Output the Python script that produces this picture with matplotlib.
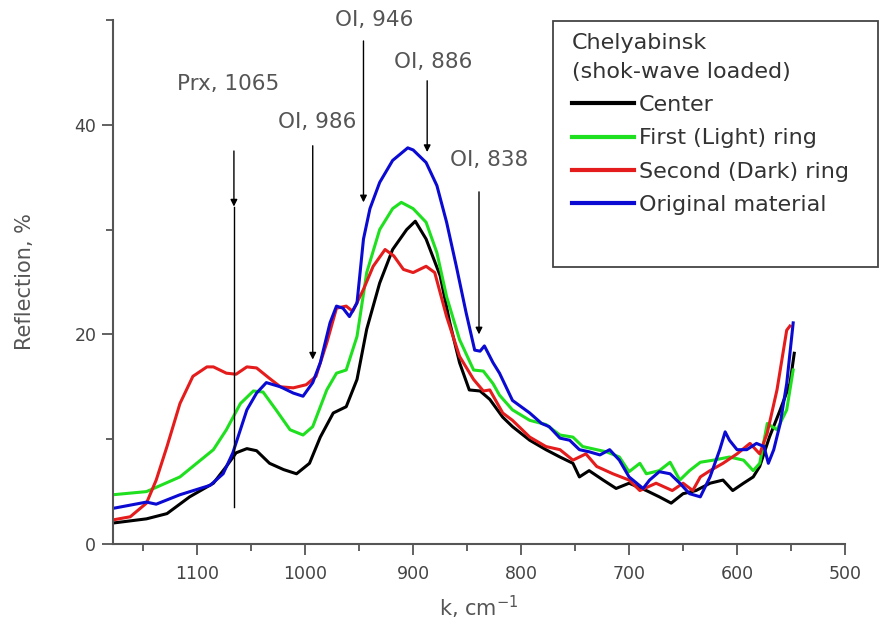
import matplotlib
matplotlib.use('Agg')
import matplotlib.pyplot as plt
from matplotlib.patches import Rectangle
from matplotlib.ticker import MultipleLocator

# Data (wavenumber, cm^-1  ->  reflection, %)
k_center = [1178, 1147, 1128, 1107, 1085, 1073, 1064, 1054, 1045, 1033, 1020, 1008, 996, 986, 974,
            962, 952, 943, 931, 919, 906, 898, 888, 875, 866, 857, 848, 838, 829, 817, 808, 792,
            777, 764, 752, 746, 737, 724, 712, 700, 684, 672, 661, 650, 638, 625, 613, 604, 594,
            585, 579, 570, 560, 551, 547]
r_center = [2.0, 2.4, 2.9, 4.5, 5.8, 7.4, 8.7, 9.1, 8.9, 7.7, 7.1, 6.7, 7.7, 10.2, 12.5,
            13.1, 15.7, 20.5, 24.9, 28.1, 30.0, 30.8, 29.1, 25.6, 21.1, 17.3, 14.7, 14.6, 13.8, 12.1, 11.2, 9.9,
            9.0, 8.3, 7.7, 6.4, 7.0, 6.1, 5.3, 5.8, 5.1, 4.5, 3.9, 4.8, 5.1, 5.8, 6.1, 5.1, 5.8,
            6.4, 7.4, 10.2, 12.8, 15.3, 18.2]

k_light = [1178, 1147, 1116, 1085, 1073, 1060, 1048, 1039, 1027, 1014, 1002, 993, 980, 971, 962,
           952, 943, 931, 919, 911, 900, 888, 878, 869, 857, 844, 835, 826, 820, 808, 792, 777,
           764, 752, 743, 730, 721, 709, 700, 690, 684, 672, 662, 653, 644, 634, 622, 607, 594,
           585, 579, 572, 563, 554, 548]
r_light = [4.7, 5.0, 6.4, 9.0, 10.9, 13.4, 14.6, 14.5, 12.8, 10.9, 10.4, 11.2, 14.7, 16.3, 16.6,
           19.8, 25.9, 30.0, 32.0, 32.6, 32.0, 30.7, 27.8, 23.6, 19.5, 16.6, 16.5, 15.3, 14.2, 12.8, 11.8, 11.4,
           10.4, 10.2, 9.3, 9.0, 8.8, 8.3, 6.9, 7.7, 6.7, 7.0, 7.8, 6.1, 7.0, 7.8, 8.0, 8.3, 8.0,
           7.0, 7.7, 11.5, 10.9, 12.8, 16.6]

k_dark = [1178, 1162, 1147, 1138, 1128, 1116, 1104, 1091, 1085, 1073, 1064, 1054, 1045, 1033, 1023,
          1011, 999, 990, 980, 971, 962, 956, 946, 937, 926, 918, 909, 900, 888, 880, 869, 857,
          844, 835, 829, 817, 808, 792, 777, 764, 752, 740, 730, 715, 700, 690, 675, 660, 650,
          641, 634, 625, 613, 600, 588, 579, 572, 563, 554, 551]
r_dark = [2.3, 2.6, 3.9, 6.1, 9.3, 13.4, 16.0, 16.9, 16.9, 16.3, 16.2, 16.9, 16.8, 15.8, 15.0,
          14.9, 15.2, 16.0, 19.2, 22.5, 22.7, 22.2, 24.3, 26.5, 28.1, 27.5, 26.2, 25.9, 26.5, 25.9, 21.7, 17.9,
          15.7, 14.6, 14.7, 12.5, 11.8, 10.2, 9.3, 9.0, 8.0, 8.6, 7.4, 6.7, 6.1, 5.1, 5.8, 5.1, 5.8,
          5.1, 6.4, 7.0, 7.7, 8.6, 9.6, 8.6, 10.6, 14.7, 20.4, 20.8]

k_orig = [1178, 1147, 1138, 1116, 1088, 1076, 1067, 1054, 1045, 1036, 1023, 1011, 1002, 993, 986,
          977, 971, 965, 959, 952, 946, 940, 931, 919, 905, 900, 888, 878, 869, 860, 851, 843,
          838, 834, 826, 820, 808, 792, 781, 774, 764, 755, 746, 737, 727, 718, 709, 700, 687,
          681, 672, 662, 653, 644, 634, 625, 616, 611, 607, 600, 591, 582, 575, 571, 566, 560,
          554, 548]
r_orig = [3.4, 4.0, 3.8, 4.7, 5.6, 6.7, 8.7, 12.8, 14.4, 15.4, 15.0, 14.4, 14.1, 15.4, 17.3,
          21.1, 22.7, 22.5, 21.7, 23.0, 29.1, 32.0, 34.5, 36.6, 37.8, 37.6, 36.4, 34.2, 30.7, 26.5, 22.1, 18.5,
          18.4, 18.9, 17.3, 16.3, 13.7, 12.5, 11.5, 11.2, 10.1, 9.9, 9.0, 8.8, 8.5, 9.0, 8.0, 6.4, 5.3,
          6.1, 6.9, 6.7, 5.8, 4.8, 4.5, 6.4, 9.0, 10.7, 9.9, 9.0, 9.0, 9.6, 9.3, 7.7, 9.0, 11.5,
          15.3, 21.1]

# Band annotations: label, arrow position, arrow top, arrow tip, label position
band_labels = ['Prx, 1065', 'OI, 986', 'OI, 946', 'OI, 886', 'OI, 838']
band_k = [1066, 993, 946, 887, 839]
band_top = [37.5, 38.0, 48.0, 44.2, 33.6]
band_tip = [32.2, 17.6, 32.6, 37.4, 20.0]
label_k = [1071, 989, 936, 881, 830]
label_y = [43.9, 40.3, 50.0, 46.0, 36.6]

series_names = ['Center', 'First (Light) ring', 'Second (Dark) ring', 'Original material']

fig = plt.figure(figsize=(8.82, 6.29), dpi=100)
ax = fig.add_axes([113 / 882, 85 / 629, 732 / 882, 524 / 629])

grey = '#555555'
ax.plot(k_center, r_center, color='#000000', lw=2.2, label=series_names[0])
ax.plot(k_light, r_light, color='#1fe01f', lw=2.2, label=series_names[1])
ax.plot(k_dark, r_dark, color='#e51c1c', lw=2.2, label=series_names[2])
ax.plot(k_orig, r_orig, color='#0a0ad2', lw=2.2, label=series_names[3])

# arrows marking the bands
for lab, kx, top, tip, lx, ly in zip(band_labels, band_k, band_top, band_tip, label_k, label_y):
    ax.annotate('', xy=(kx, tip), xytext=(kx, top),
                arrowprops=dict(arrowstyle='-|>', color='black', lw=1.0,
                                mutation_scale=10, shrinkA=0, shrinkB=0))
    ax.text(lx, ly, lab, ha='center', va='center', fontsize=15.5, color=grey,
            clip_on=False)
# the pyroxene arrow keeps going down to the base of the curves
ax.plot([band_k[0], band_k[0]], [band_tip[0], 3.5], color='black', lw=1.0)

ax.set_xlim(1178, 500)
ax.set_ylim(0, 50)
ax.xaxis.set_major_locator(MultipleLocator(100))
ax.xaxis.set_minor_locator(MultipleLocator(50))
ax.yaxis.set_major_locator(MultipleLocator(20))
ax.yaxis.set_minor_locator(MultipleLocator(10))

for s in ['top', 'right']:
    ax.spines[s].set_visible(False)
for s in ['left', 'bottom']:
    ax.spines[s].set_color(grey)
    ax.spines[s].set_linewidth(1.5)

ax.tick_params(which='major', direction='out', length=8, width=1.3, color=grey,
               labelsize=12.5, labelcolor='#444444')
ax.tick_params(which='minor', direction='out', length=5, width=1.3, color=grey)
ax.tick_params(axis='x', which='major', pad=7)
ax.tick_params(axis='y', which='major', pad=4)

ax.set_xlabel('k, cm$^{-1}$', fontsize=15, color=grey, labelpad=8)
ax.set_ylabel('Reflection, %', fontsize=15, color=grey, labelpad=28)

leg = ax.legend(loc='upper left', bbox_to_anchor=(572 / 882, 1 - 33 / 629),
                bbox_transform=fig.transFigure, frameon=False,
                title='Chelyabinsk\n(shok-wave loaded)', alignment='left',
                fontsize=16, title_fontsize=16, handlelength=2.8, handletextpad=0.2,
                labelspacing=0.6, borderpad=0, borderaxespad=0)
for t in leg.get_texts():
    t.set_color('#333333')
leg.get_title().set_color('#333333')
leg.get_title().set_linespacing(1.55)
for h in leg.legend_handles:
    h.set_linewidth(3)

fig.patches.append(Rectangle((553 / 882, 1 - 267 / 629), 325 / 882, 246 / 629,
                             transform=fig.transFigure, fill=False,
                             edgecolor='#444444', lw=1.3))

fig.savefig('out.png', dpi=100)
